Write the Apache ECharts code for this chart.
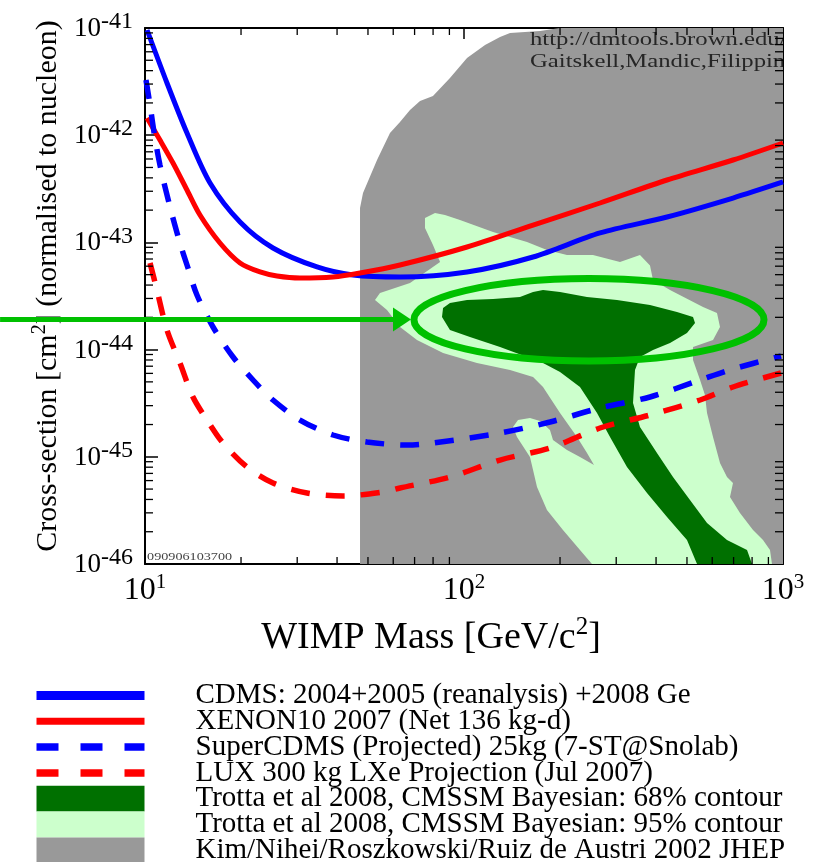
<!DOCTYPE html>
<html>
<head>
<meta charset="utf-8">
<script src="https://cdn.jsdelivr.net/npm/echarts@6/dist/echarts.min.js"></script>
<style>
html,body{margin:0;padding:0;background:#fff;}
#chart{width:816px;height:862px;}
</style>
</head>
<body>
<div id="chart"></div>
<script>
// ---------------- data (WIMP mass in GeV/c^2, cross-section in cm^2) ----------------
const xTickValues = [10, 100, 1000];
const yTickValues = [1e-46, 1e-45, 1e-44, 1e-43, 1e-42, 1e-41];
const xMinorTicks = [20,30,40,50,60,70,80,90,200,300,400,500,600,700,800,900];
const yMinorTicks = [2e-46,3e-46,4e-46,5e-46,6e-46,7e-46,8e-46,9e-46,
                     2e-45,3e-45,4e-45,5e-45,6e-45,7e-45,8e-45,9e-45,
                     2e-44,3e-44,4e-44,5e-44,6e-44,7e-44,8e-44,9e-44,
                     2e-43,3e-43,4e-43,5e-43,6e-43,7e-43,8e-43,9e-43,
                     2e-42,3e-42,4e-42,5e-42,6e-42,7e-42,8e-42,9e-42];

const cdmsMass  = [10.15, 11.72, 13.54, 15.99, 19.86, 25.19, 34.62, 44.87, 63.01, 102.2, 164.6, 266.9, 432.9, 697.0, 1000];
const cdmsSigma = [9.58e-42, 3.07e-42, 1.048e-42, 3.58e-43, 1.549e-43, 8.87e-44, 5.90e-44, 4.97e-44, 4.76e-44, 5.30e-44, 7.31e-44, 1.225e-43, 1.726e-43, 2.594e-43, 3.66e-43];

const xenonMass  = [10.15, 11.14, 12.24, 13.54, 14.87, 17.18, 19.86, 22.94, 25.93, 30.61, 38.85, 47.21, 63.01, 102.2, 164.6, 266.9, 432.9, 697.0, 1000];
const xenonSigma = [1.447e-42, 9.02e-43, 5.505e-43, 3.082e-43, 1.801e-43, 9.87e-44, 6.43e-44, 5.30e-44, 4.86e-44, 4.655e-44, 4.76e-44, 5.18e-44, 6.155e-44, 9.06e-44, 1.453e-43, 2.331e-43, 3.82e-43, 5.87e-43, 8.46e-43];

const scdmsMass  = [10.07, 10.37, 10.67, 11.14, 11.98, 12.87, 13.64, 14.55, 16.34, 18.88, 21.81, 25.19, 30.61, 38.85, 49.65, 66.27, 79.94, 129.7, 186.0, 266.9, 382.9, 549.5, 697.0, 985.6];
const scdmsSigma = [3.273e-42, 1.913e-42, 1.071e-42, 5.27e-43, 2.139e-43, 9.87e-44, 5.77e-44, 3.231e-44, 1.625e-44, 8.53e-45, 5.205e-45, 3.388e-45, 2.204e-45, 1.597e-45, 1.374e-45, 1.288e-45, 1.345e-45, 1.667e-45, 2.111e-45, 2.852e-45, 3.613e-45, 5.205e-45, 6.59e-45, 8.715e-45];

const luxMass  = [10.37, 10.90, 11.72, 12.87, 14.14, 15.65, 17.56, 20.88, 25.19, 32.20, 41.75, 55.73, 63.01, 90.37, 129.7, 186.0, 266.9, 382.9, 549.5, 697.0, 985.6];
const luxSigma = [6.43e-44, 3.597e-44, 1.523e-44, 7.50e-45, 3.613e-45, 2.204e-45, 1.345e-45, 8.03e-46, 5.695e-46, 4.596e-46, 4.309e-46, 4.695e-46, 5.117e-46, 6.48e-46, 9.33e-46, 1.208e-45, 1.856e-45, 2.454e-45, 3.388e-45, 4.478e-45, 6.05e-45];

// Kim/Nihei/Roszkowski/Ruiz de Austri region outline
const kimMass  = [47.21, 47.21, 48.24, 53.38, 58.61, 63.01, 67.72, 72.80, 79.94, 90.37, 102.2, 116.4, 129.7, 139.4, 173.1, 200.0, 1000, 1000];
const kimSigma = [1e-46, 2.094e-43, 2.889e-43, 5.87e-43, 1.048e-42, 1.328e-42, 1.718e-42, 2.084e-42, 2.321e-42, 3.417e-42, 5.25e-42, 6.94e-42, 8.24e-42, 8.98e-42, 9.38e-42, 1e-41, 1e-41, 1e-46];

// Trotta et al 95% contour outline
const c95Mass  = [75.46, 81.11, 87.17, 97.15, 123.3, 157.6, 182.0, 210.3, 253.7, 308.3, 356.2, 382.9, 391.3, 442.4, 561.4, 621.0, 634.6, 603.4, 522.3, 522.3,
                  549.5, 569.4, 577.9, 603.4, 634.6, 667.5, 697.0, 682.1, 733.1, 805.4, 865.6, 910.4, 923.6, 251.9, 231.0, 204.3, 182.0, 169.4, 164.6, 161.0,
                  146.6, 142.4, 147.7, 161.0, 173.1, 186.0, 190.1, 210.3, 231.0, 255.6, 243.0, 226.1, 200.0, 176.9, 164.6, 139.4, 109.8, 85.97, 71.22, 63.01,
                  57.36, 52.60, 54.53, 67.72, 84.13, 79.94, 75.46];
const c95Sigma = [1.689e-43, 1.881e-43, 1.801e-43, 1.618e-43, 1.250e-43, 1.009e-43, 8.49e-44, 7.63e-44, 7.63e-44, 6.565e-44, 7.63e-44, 6.10e-44, 4.46e-44, 3.597e-44, 2.497e-44, 2.194e-44, 1.625e-44, 1.229e-44, 1.057e-44, 8.00e-45,
                  5.205e-45, 3.772e-45, 2.562e-45, 1.530e-45, 8.75e-46, 6.48e-46, 5.695e-46, 4.217e-46, 2.990e-46, 2.076e-46, 1.675e-46, 1.351e-46, 1e-46, 1e-46, 1.351e-46, 2.076e-46, 3.189e-46, 5.23e-46, 7.53e-46, 9.96e-46,
                  1.530e-45, 1.897e-45, 2.204e-45, 2.301e-45, 2.158e-45, 1.778e-45, 1.434e-45, 1.157e-45, 9.96e-46, 8.38e-46, 1.085e-45, 1.530e-45, 2.562e-45, 4.478e-45, 5.55e-45, 6.45e-45, 7.50e-45, 9.30e-45, 1.229e-44, 1.625e-44,
                  2.341e-44, 2.902e-44, 3.373e-44, 4.18e-44, 6.565e-44, 9.46e-44, 1.362e-43];

// Trotta et al 68% contour outline
const c68Mass  = [85.97, 90.37, 102.2, 123.3, 149.8, 164.6, 176.9, 200.0, 243.0, 301.7, 382.9, 465.2, 522.3, 529.9, 500.1, 442.4, 391.3, 356.2, 343.6, 338.7,
                  356.2, 402.7, 452.0, 511.0, 577.9, 667.5, 771.3, 799.6, 537.6, 500.1, 432.9, 374.7, 324.3, 286.9, 261.2, 231.0, 200.0, 176.9, 157.6, 129.7,
                  104.4, 90.37, 85.32];
const c68Sigma = [2.444e-44, 2.721e-44, 2.902e-44, 2.965e-44, 3.095e-44, 3.446e-44, 3.597e-44, 3.446e-44, 3.095e-44, 2.902e-44, 2.606e-44, 2.242e-44, 2.014e-44, 1.770e-44, 1.428e-44, 1.152e-44, 9.92e-45, 8.53e-45, 6.45e-45, 3.176e-45,
                  1.897e-45, 1.085e-45, 6.48e-46, 3.954e-46, 2.413e-46, 1.675e-46, 1.351e-46, 1e-46, 1e-46, 1.675e-46, 2.744e-46, 4.596e-46, 8.03e-46, 1.530e-45, 2.562e-45, 4.478e-45, 6.18e-45, 7.50e-45, 8.53e-45, 1.057e-44,
                  1.311e-44, 1.523e-44, 2.014e-44];

// annotation: highlighting ellipse (bounding box) and arrow, in data units
const ellipseMass  = [69.70, 871.9];
const ellipseSigma = [4.604e-44, 7.83e-45];
const arrowMass  = [3.513, 59.89, 68.21];
const arrowSigma = [1.909e-44, 2.47e-44, 1.475e-44];
const notePos = [[161.0, 7.73e-42], [161.0, 4.82e-42], [10.15, 1.162e-46]];

const noteLines = ['http://dmtools.brown.edu/', 'Gaitskell,Mandic,Filippini'];
const stampText = '090906103700';

const nameCDMS  = 'CDMS: 2004+2005 (reanalysis) +2008 Ge';
const nameXENON = 'XENON10 2007 (Net 136 kg-d)';
const nameSCDMS = 'SuperCDMS (Projected) 25kg (7-ST@Snolab)';
const nameLUX   = 'LUX 300 kg LXe Projection (Jul 2007)';
const name68    = 'Trotta et al 2008, CMSSM Bayesian: 68% contour';
const name95    = 'Trotta et al 2008, CMSSM Bayesian: 95% contour';
const nameKim   = 'Kim/Nihei/Roszkowski/Ruiz de Austri 2002 JHEP';

// ---------------- helpers ----------------
// The y axis is plotted in units of 1e-46 cm^2 (avoids float rounding of tiny numbers in the log scale).
const Y_UNIT_EXP = 46;
const toUnit = s => s * 1e46;
const FONT = 'Liberation Serif';
const X_MIN = xTickValues[0], X_MAX = xTickValues[xTickValues.length - 1];
const Y_MIN = toUnit(yTickValues[0]), Y_MAX = toUnit(yTickValues[yTickValues.length - 1]);
function zip(a, b) { return a.map((v, i) => [v, toUnit(b[i])]); }
const cdms = zip(cdmsMass, cdmsSigma);
const xenon = zip(xenonMass, xenonSigma);
const scdms = zip(scdmsMass, scdmsSigma);
const lux = zip(luxMass, luxSigma);
const kim = zip(kimMass, kimSigma);
const c95 = zip(c95Mass, c95Sigma);
const c68 = zip(c68Mass, c68Sigma);

function polygonRender(points, color) {
  return function (params, api) {
    if (params.dataIndex !== 0) return null;
    return {
      type: 'polygon',
      shape: { points: points.map(p => api.coord(p)) },
      style: { fill: color, stroke: null }
    };
  };
}

const xLabel = v => '{b|10}{s|' + Math.round(Math.log10(v)) + '}';
const yLabel = v => '{b|10}{s|' + (Math.round(Math.log10(v)) - Y_UNIT_EXP) + '}';

const GREEN = '#00c000';

const chart = echarts.init(document.getElementById('chart'), null, { renderer: 'canvas' });

function baseXAxis(pos) {
  return {
    type: 'log', logBase: 10, min: X_MIN, max: X_MAX, position: pos,
    axisLine: { show: true, lineStyle: { color: '#000', width: 2 } },
    axisTick: { show: true, inside: true, length: 11, lineStyle: { color: '#000', width: 1.5 } },
    splitLine: { show: false },
    axisLabel: { show: false }
  };
}
function baseYAxis(pos) {
  return {
    type: 'log', logBase: 10, min: Y_MIN, max: Y_MAX, position: pos,
    axisLine: { show: true, lineStyle: { color: '#000', width: 2 } },
    axisTick: { show: true, inside: true, length: 13, lineStyle: { color: '#000', width: 1.5 } },
    splitLine: { show: false },
    axisLabel: { show: false }
  };
}

const xBottom = Object.assign(baseXAxis('bottom'), {
  axisLabel: {
    show: true, margin: 8, formatter: xLabel,
    rich: {
      b: { fontFamily: FONT, fontSize: 32, lineHeight: 32, color: '#000', padding: [5, 0, 0, 0] },
      s: { fontFamily: FONT, fontSize: 21, lineHeight: 21, color: '#000', verticalAlign: 'top' }
    }
  },
  name: '{m|WIMP Mass [GeV/c}{s|2}{m|]}',
  nameLocation: 'middle', nameGap: 49,
  nameTextStyle: {
    padding: [0, 66, 0, 0],
    rich: {
      m: { fontFamily: FONT, fontSize: 38, lineHeight: 38, color: '#000', padding: [8, 0, 0, 0] },
      s: { fontFamily: FONT, fontSize: 25, lineHeight: 25, color: '#000', verticalAlign: 'top' }
    }
  }
});
const yLeft = Object.assign(baseYAxis('left'), {
  axisLabel: {
    show: true, margin: 12, formatter: yLabel, padding: [0, 0, 8, 0],
    rich: {
      b: { fontFamily: FONT, fontSize: 27, lineHeight: 28, color: '#000', padding: [10, 0, 0, 0] },
      s: { fontFamily: FONT, fontSize: 24, lineHeight: 24, color: '#000', verticalAlign: 'top' }
    }
  },
  name: '{m|Cross-section [cm}{s|2}{m|] (normalised to nucleon)}',
  nameLocation: 'middle', nameGap: 74,
  nameTextStyle: {
    padding: [0, 0, 0, 20],
    rich: {
      m: { fontFamily: FONT, fontSize: 30, lineHeight: 30, color: '#000', padding: [6, 0, 0, 0] },
      s: { fontFamily: FONT, fontSize: 20, lineHeight: 20, color: '#000', verticalAlign: 'top' }
    }
  }
});

const lineItem = (name, w, dash) => ({ name, itemStyle: { opacity: 0 }, lineStyle: { width: w, type: dash ? [22, 22] : 'solid', opacity: 1 } });
const rectItem = (name, color) => ({ name, icon: 'rect', itemStyle: { color, borderWidth: 0, opacity: 1 } });

const option = {
  animation: false,
  backgroundColor: '#ffffff',
  grid: { left: 145, right: 33, top: 28, bottom: 298, containLabel: false, outerBoundsMode: 'none' },
  xAxis: [xBottom, baseXAxis('top')],
  yAxis: [yLeft, baseYAxis('right')],
  legend: {
    orient: 'vertical', left: 32, top: 681, height: 240, padding: 0, itemGap: -3.2,
    itemWidth: 108, itemHeight: 25.8, selectedMode: false,
    textStyle: { fontFamily: FONT, fontSize: 29, color: '#000', lineHeight: 25.8, padding: [0, 0, 0, 46] },
    data: [
      lineItem(nameCDMS, 9, false),
      lineItem(nameXENON, 7, false),
      lineItem(nameSCDMS, 7.5, true),
      lineItem(nameLUX, 7.5, true),
      rectItem(name68, '#007000'),
      rectItem(name95, '#ccffcc'),
      rectItem(nameKim, '#999999')
    ]
  },
  series: [
    { name: nameKim, type: 'custom', data: kim, encode: { x: 0, y: 1 }, clip: true, silent: true, z: 1,
      itemStyle: { color: '#999999' }, renderItem: polygonRender(kim, '#999999') },
    { name: name95, type: 'custom', data: c95, encode: { x: 0, y: 1 }, clip: true, silent: true, z: 2,
      itemStyle: { color: '#ccffcc' }, renderItem: polygonRender(c95, '#ccffcc') },
    { name: name68, type: 'custom', data: c68, encode: { x: 0, y: 1 }, clip: true, silent: true, z: 3,
      itemStyle: { color: '#007000' }, renderItem: polygonRender(c68, '#007000') },
    { name: nameCDMS, type: 'line', data: cdms, symbol: 'none', smooth: 0.3, z: 5, silent: true,
      itemStyle: { color: '#0000ff' }, lineStyle: { color: '#0000ff', width: 5 } },
    { name: nameXENON, type: 'line', data: xenon, symbol: 'none', smooth: 0.3, z: 5, silent: true,
      itemStyle: { color: '#ff0000' }, lineStyle: { color: '#ff0000', width: 5 } },
    { name: nameSCDMS, type: 'line', data: scdms, symbol: 'none', smooth: 0.3, z: 5, silent: true,
      itemStyle: { color: '#0000ff' }, lineStyle: { color: '#0000ff', width: 5.5, type: [19, 16], cap: 'butt' } },
    { name: nameLUX, type: 'line', data: lux, symbol: 'none', smooth: 0.3, z: 5, silent: true,
      itemStyle: { color: '#ff0000' }, lineStyle: { color: '#ff0000', width: 5.5, type: [19, 16], cap: 'butt' } },
    // minor ticks on all four sides
    { type: 'custom', data: [[X_MIN, Y_MIN]], encode: { x: 0, y: 1 }, clip: false, silent: true, z: 8,
      renderItem: function (params, api) {
        const ch = [];
        const st = { stroke: '#000', lineWidth: 1.3 };
        xMinorTicks.forEach(t => {
          const b = api.coord([t, Y_MIN]), tp = api.coord([t, Y_MAX]);
          ch.push({ type: 'line', shape: { x1: b[0], y1: b[1], x2: b[0], y2: b[1] - 7 }, style: st });
          ch.push({ type: 'line', shape: { x1: tp[0], y1: tp[1], x2: tp[0], y2: tp[1] + 7 }, style: st });
        });
        yMinorTicks.forEach(t => {
          const l = api.coord([X_MIN, toUnit(t)]), r = api.coord([X_MAX, toUnit(t)]);
          ch.push({ type: 'line', shape: { x1: l[0], y1: l[1], x2: l[0] + 8, y2: l[1] }, style: st });
          ch.push({ type: 'line', shape: { x1: r[0], y1: r[1], x2: r[0] - 8, y2: r[1] }, style: st });
        });
        return { type: 'group', children: ch };
      } },
    // in-plot notes (clipped to the frame)
    { type: 'custom', data: notePos.map(p => [p[0], toUnit(p[1])]), encode: { x: 0, y: 1 },
      clip: true, silent: true, z: 6,
      renderItem: function (params, api) {
        const p = api.coord([api.value(0), api.value(1)]);
        const i = params.dataIndex;
        const isStamp = i === 2;
        return {
          type: 'text', x: p[0], y: p[1], scaleX: isStamp ? 1.35 : 1.3,
          style: {
            text: isStamp ? stampText : noteLines[i],
            fontFamily: FONT, fontSize: isStamp ? 10.5 : 19,
            fill: isStamp ? '#444' : '#262626',
            align: 'left', verticalAlign: 'middle'
          }
        };
      } },
    // highlighting ellipse and arrow
    { type: 'custom', data: [[ellipseMass[0], toUnit(ellipseSigma[0])]], encode: { x: 0, y: 1 }, clip: false, silent: true, z: 10,
      renderItem: function (params, api) {
        const a = api.coord([ellipseMass[0], toUnit(ellipseSigma[0])]);
        const b = api.coord([ellipseMass[1], toUnit(ellipseSigma[1])]);
        const s = api.coord([arrowMass[0], toUnit(arrowSigma[0])]);
        const hb = api.coord([arrowMass[1], toUnit(arrowSigma[1])]);
        const hb2 = api.coord([arrowMass[1], toUnit(arrowSigma[2])]);
        const tip = api.coord([arrowMass[2], toUnit(arrowSigma[0])]);
        return {
          type: 'group', children: [
            { type: 'ellipse', shape: { cx: (a[0] + b[0]) / 2, cy: (a[1] + b[1]) / 2, rx: (b[0] - a[0]) / 2, ry: (b[1] - a[1]) / 2 },
              style: { fill: null, stroke: GREEN, lineWidth: 7 } },
            { type: 'line', shape: { x1: s[0], y1: s[1], x2: hb[0] + 2, y2: s[1] }, style: { stroke: GREEN, lineWidth: 5 } },
            { type: 'polygon', shape: { points: [[hb[0], hb[1]], [tip[0], tip[1]], [hb2[0], hb2[1]]] }, style: { fill: GREEN } }
          ]
        };
      } }
  ]
};
chart.setOption(option);
</script>
</body>
</html>
